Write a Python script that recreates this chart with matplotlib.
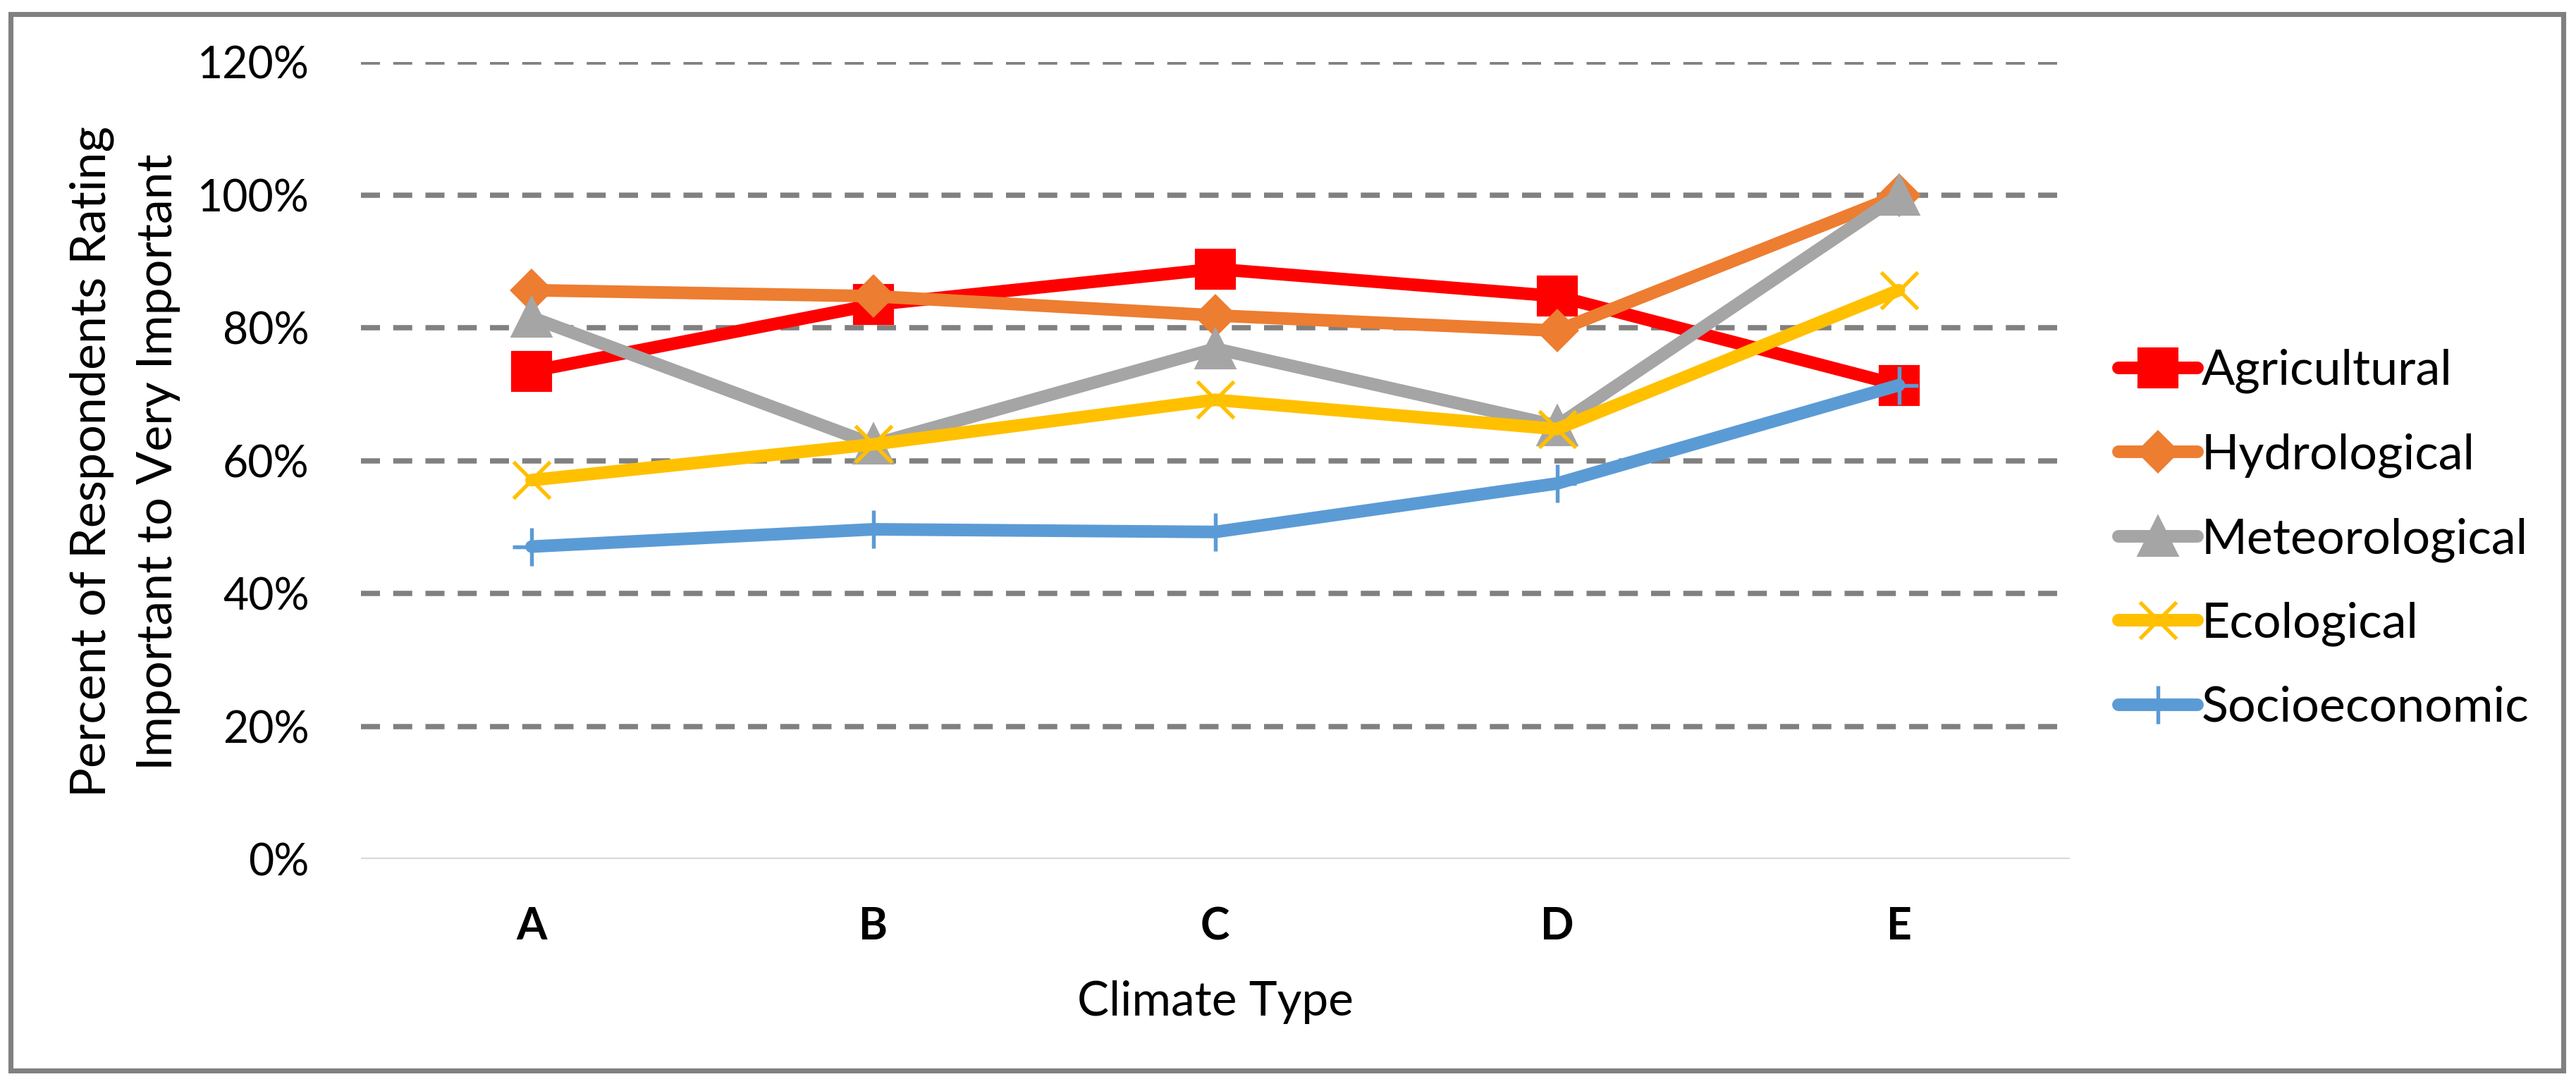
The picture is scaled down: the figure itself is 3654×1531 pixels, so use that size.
import matplotlib
matplotlib.use("Agg")
import matplotlib.pyplot as plt
from matplotlib.patches import Rectangle
from matplotlib.ticker import PercentFormatter

categories = ["A", "B", "C", "D", "E"]
series_names = ["Agricultural", "Hydrological", "Meteorological", "Ecological", "Socioeconomic"]
agricultural = [73.5, 83.5, 88.9, 84.8, 71.4]
hydrological = [85.7, 84.8, 81.9, 79.6, 100.0]
meteorological = [81.6, 62.5, 76.9, 65.3, 100.0]
ecological = [57.1, 62.5, 69.2, 64.8, 85.7]
socioeconomic = [47.1, 49.7, 49.3, 56.6, 71.4]
yticks = [0, 20, 40, 60, 80, 100, 120]

plt.rcParams['font.family'] = ['Lato', 'DejaVu Sans']

fig = plt.figure(figsize=(3654 / 300, 1531 / 300), dpi=300)
ax_left, ax_right, ax_bottom, ax_top = 0.1400, 0.8035, 0.2035, 0.9422
ax = fig.add_axes([ax_left, ax_bottom, ax_right - ax_left, ax_top - ax_bottom])

x = list(range(len(categories)))
styles = [
    (agricultural, "#FF0000", "s", dict(markersize=12.8)),
    (hydrological, "#ED7D31", "D", dict(markersize=9.5)),
    (meteorological, "#A5A5A5", "^", dict(markersize=13)),
    (ecological, "#FFC000", "x", dict(markersize=12.5, markeredgewidth=1.3)),
    (socioeconomic, "#5B9BD5", "+", dict(markersize=13, markeredgewidth=1.3)),
]
for (vals, col, mk, kw), name in zip(styles, series_names):
    ax.plot(x, vals, color=col, marker=mk, linewidth=4.3, label=name,
            markerfacecolor=col, markeredgecolor=col, solid_capstyle='round',
            solid_joinstyle='round', zorder=3, **kw)

ax.set_xlim(-0.5, len(categories) - 0.5)
ax.set_ylim(0, 120)
ax.set_yticks(yticks)
ax.yaxis.set_major_formatter(PercentFormatter(decimals=0))
ax.set_xticks(x)
ax.set_xticklabels(categories, fontweight='bold')
ax.tick_params(axis='both', length=0, labelsize=15)
ax.tick_params(axis='y', pad=17.5)
ax.tick_params(axis='x', pad=16)

for yv in yticks[1:]:
    ax.axhline(yv, color="#808080", linewidth=1.8, linestyle=(0, (3.6, 2.5)),
               dash_capstyle='butt', zorder=1)
ax.axhline(0, color="#D9D9D9", linewidth=1.3, zorder=1)
for s in ax.spines.values():
    s.set_visible(False)

fig.text(0.0485, 0.572, "Percent of Respondents Rating\nImportant to Very Important",
         fontsize=16.8, rotation=90, ha='center', va='center', linespacing=1.6)
fig.text((ax_left + ax_right) / 2, 0.0588, "Climate Type", fontsize=16.2,
         ha='center', va='baseline')

fig.legend(loc='center left', bbox_to_anchor=(0.8224, 0.5), frameon=False,
           fontsize=16.8, handlelength=1.6, handletextpad=0.08, labelspacing=0.8,
           borderpad=0, borderaxespad=0)

fig.patches.append(Rectangle((0.0041, 0.0078), 0.991, 0.979, transform=fig.transFigure,
                             fill=False, edgecolor="#808080", linewidth=1.7))

fig.savefig("out.png", dpi=300)
